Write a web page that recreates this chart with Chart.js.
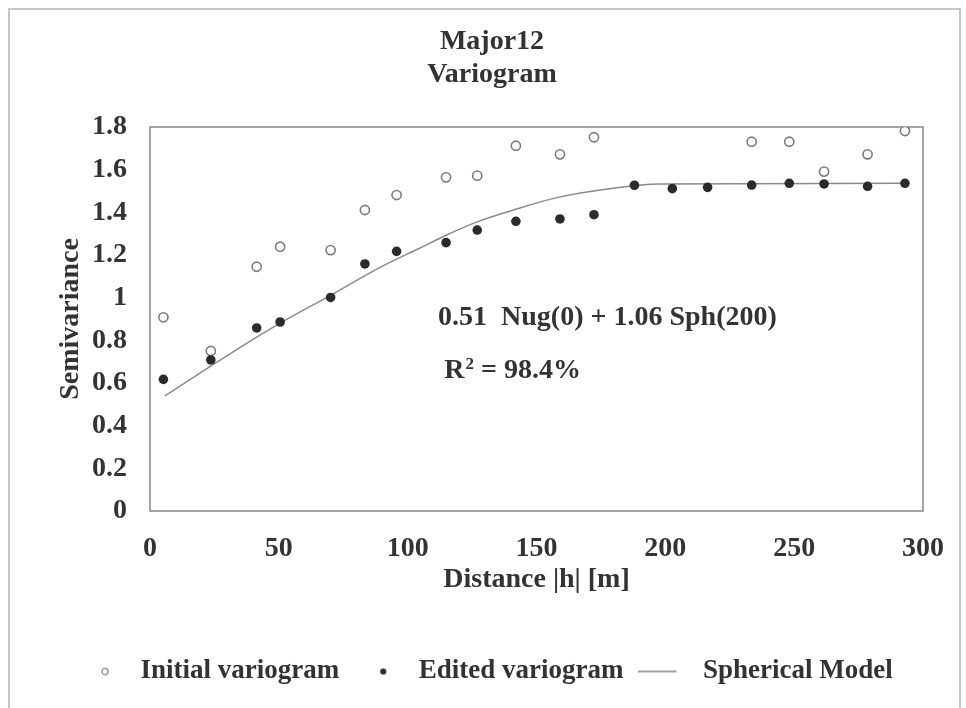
<!DOCTYPE html>
<html><head><meta charset="utf-8">
<script src="https://cdn.jsdelivr.net/npm/chart.js@4"></script>
<style>
html,body{margin:0;padding:0;background:#fff;}
#wrap{position:relative;width:966px;height:708px;overflow:hidden;}
#frame{position:absolute;left:8px;top:8px;width:953px;height:720px;border:2px solid #c6c6c6;box-sizing:border-box;}
canvas{position:absolute;left:0;top:0;}
</style></head><body>
<div id="wrap"><div id="frame"></div><canvas id="c" width="966" height="708"></canvas></div>
<script>
const titleLines = ['Major12', 'Variogram'];
const xAxisTitle = 'Distance |h| [m]';
const yAxisTitle = 'Semivariance';
const xTickValues = [0, 50, 100, 150, 200, 250, 300];
const xTickLabels = ['0', '50', '100', '150', '200', '250', '300'];
const yTickValues = [0, 0.2, 0.4, 0.6, 0.8, 1, 1.2, 1.4, 1.6, 1.8];
const yTickLabels = ['0', '0.2', '0.4', '0.6', '0.8', '1', '1.2', '1.4', '1.6', '1.8'];
const seriesNames = ['Initial variogram', 'Edited variogram', 'Spherical Model'];

const initialX = [5.2, 23.6, 41.4, 50.5, 70.1, 83.4, 95.7, 114.9, 127.0, 142.0, 159.1, 172.3, 233.5, 248.1, 261.6, 278.5, 293.0];
const initialY = [0.908, 0.750, 1.145, 1.239, 1.223, 1.411, 1.481, 1.564, 1.572, 1.712, 1.672, 1.752, 1.731, 1.731, 1.591, 1.672, 1.781];

const editedX = [5.2, 23.6, 41.4, 50.5, 70.1, 83.4, 95.7, 114.9, 127.0, 142.0, 159.1, 172.3, 188.0, 202.7, 216.4, 233.5, 248.1, 261.6, 278.5, 293.0];
const editedY = [0.617, 0.708, 0.858, 0.886, 1.001, 1.158, 1.217, 1.258, 1.317, 1.358, 1.369, 1.389, 1.527, 1.511, 1.517, 1.528, 1.536, 1.533, 1.522, 1.536];

const modelX = [5.8, 23.7, 41.4, 50.7, 69.9, 89.3, 104.8, 115.1, 128.0, 141.0, 157.8, 179.8, 197.9, 293.0];
const modelY = [0.540, 0.680, 0.815, 0.882, 1.010, 1.142, 1.233, 1.294, 1.360, 1.411, 1.469, 1.513, 1.533, 1.536];

const equationText = '0.51  Nug(0) + 1.06 Sph(200)';
const r2Label = 'R';
const r2Sup = '2';
const r2Value = ' = 98.4%';

const FONT = "'Liberation Serif', 'Times New Roman', serif";
const TXT = '#333333';

const toPts = (xs, ys) => xs.map((x, i) => ({x: x, y: ys[i]}));

function icon(kind) {
  const c = document.createElement('canvas');
  const g = c.getContext('2d');
  if (kind === 'line') {
    c.width = 58; c.height = 4;
    g.fillStyle = '#8a8a8a'; g.fillRect(0, 1.2, 38, 1.6);
  } else {
    c.width = 10; c.height = 10;
    g.beginPath(); g.arc(5, 5, 3.1, 0, Math.PI * 2);
    if (kind === 'open') { g.strokeStyle = '#808080'; g.lineWidth = 1.2; g.stroke(); }
    else { g.fillStyle = '#2b2b2b'; g.fill(); }
  }
  return c;
}
const legendIcons = [icon('open'), icon('filled'), icon('line')];

const framePlugin = {
  id: 'frame',
  beforeDatasetsDraw(chart) {
    const a = chart.chartArea, ctx = chart.ctx;
    ctx.save();
    ctx.strokeStyle = '#858585'; ctx.lineWidth = 1.5;
    ctx.strokeRect(a.left, a.top, a.right - a.left, a.bottom - a.top);
    ctx.restore();
  }
};

const notePlugin = {
  id: 'note',
  afterDraw(chart) {
    const ctx = chart.ctx, sx = chart.scales.x, sy = chart.scales.y;
    ctx.save();
    ctx.fillStyle = TXT;
    ctx.textAlign = 'left';
    ctx.textBaseline = 'alphabetic';
    ctx.font = 'bold 28px ' + FONT;
    ctx.fillText(equationText, sx.getPixelForValue(111.8), sy.getPixelForValue(0.872));
    let x = sx.getPixelForValue(114.2);
    const y = sy.getPixelForValue(0.624);
    ctx.fillText(r2Label, x, y);
    x += ctx.measureText(r2Label).width;
    ctx.font = 'bold 17px ' + FONT;
    ctx.fillText(r2Sup, x + 1, y - 9);
    x += ctx.measureText(r2Sup).width + 1;
    ctx.font = 'bold 28px ' + FONT;
    ctx.fillText(r2Value, x, y);
    ctx.restore();
  }
};

new Chart(document.getElementById('c'), {
  type: 'scatter',
  data: {
    datasets: [
      {label: seriesNames[0], data: toPts(initialX, initialY), order: 1,
       pointRadius: 4.6, pointBorderWidth: 1.6, pointBackgroundColor: '#ffffff', pointBorderColor: '#7c7c7c', showLine: false},
      {label: seriesNames[1], data: toPts(editedX, editedY), order: 0,
       pointRadius: 4.8, pointBorderWidth: 0, pointBackgroundColor: '#2b2b2b', pointBorderColor: '#2b2b2b', showLine: false},
      {label: seriesNames[2], data: toPts(modelX, modelY), order: 2,
       showLine: true, pointRadius: 0, borderColor: '#8a8a8a', borderWidth: 1.5,
       cubicInterpolationMode: 'monotone', fill: false}
    ]
  },
  options: {
    responsive: false,
    animation: false,
    devicePixelRatio: 1,
    layout: {padding: {left: 61, right: 43, top: 0, bottom: 13}},
    plugins: {
      tooltip: {enabled: false},
      title: {
        display: true, text: titleLines, color: TXT,
        font: {family: FONT, size: 28, weight: 'bold', lineHeight: '33px'},
        padding: {top: 25, bottom: 36}
      },
      legend: {
        position: 'bottom',
        align: 'start',
        labels: {
          usePointStyle: true, pointStyleWidth: 44, padding: 22, color: TXT,
          font: {family: FONT, size: 27, weight: 'bold'},
          generateLabels: () => seriesNames.map((t, i) => ({
            text: t, pointStyle: legendIcons[i], fillStyle: '#fff', strokeStyle: '#fff',
            lineWidth: 0, hidden: false, datasetIndex: i, fontColor: TXT
          }))
        }
      }
    },
    scales: {
      x: {
        type: 'linear', min: 0, max: 300,
        grid: {display: false, drawTicks: false}, border: {display: false},
        afterBuildTicks: s => { s.ticks = xTickValues.map(v => ({value: v})); },
        afterFit: s => { s.height = 125; },
        ticks: {color: TXT, padding: 21, maxRotation: 0, autoSkip: false,
          font: {family: FONT, size: 28, weight: 'bold', lineHeight: 1.2},
          callback: (v, i) => xTickLabels[i]},
        title: {display: true, text: xAxisTitle, color: TXT,
          font: {family: FONT, size: 28, weight: 'bold', lineHeight: 1.2},
          padding: {top: 0, bottom: 39.5}}
      },
      y: {
        type: 'linear', min: 0, max: 1.8,
        grid: {display: false, drawTicks: false}, border: {display: false},
        afterBuildTicks: s => { s.ticks = yTickValues.map(v => ({value: v})); },
        afterFit: s => { s.width = 89; },
        ticks: {color: TXT, padding: 23, autoSkip: false,
          font: {family: FONT, size: 28, weight: 'bold', lineHeight: 1.2},
          callback: (v, i) => yTickLabels[i]},
        title: {display: true, text: yAxisTitle, color: TXT,
          font: {family: FONT, size: 28, weight: 'bold', lineHeight: 1.0},
          padding: {top: -4, bottom: 0}}
      }
    }
  },
  plugins: [framePlugin, notePlugin]
});
</script>
</body></html>
